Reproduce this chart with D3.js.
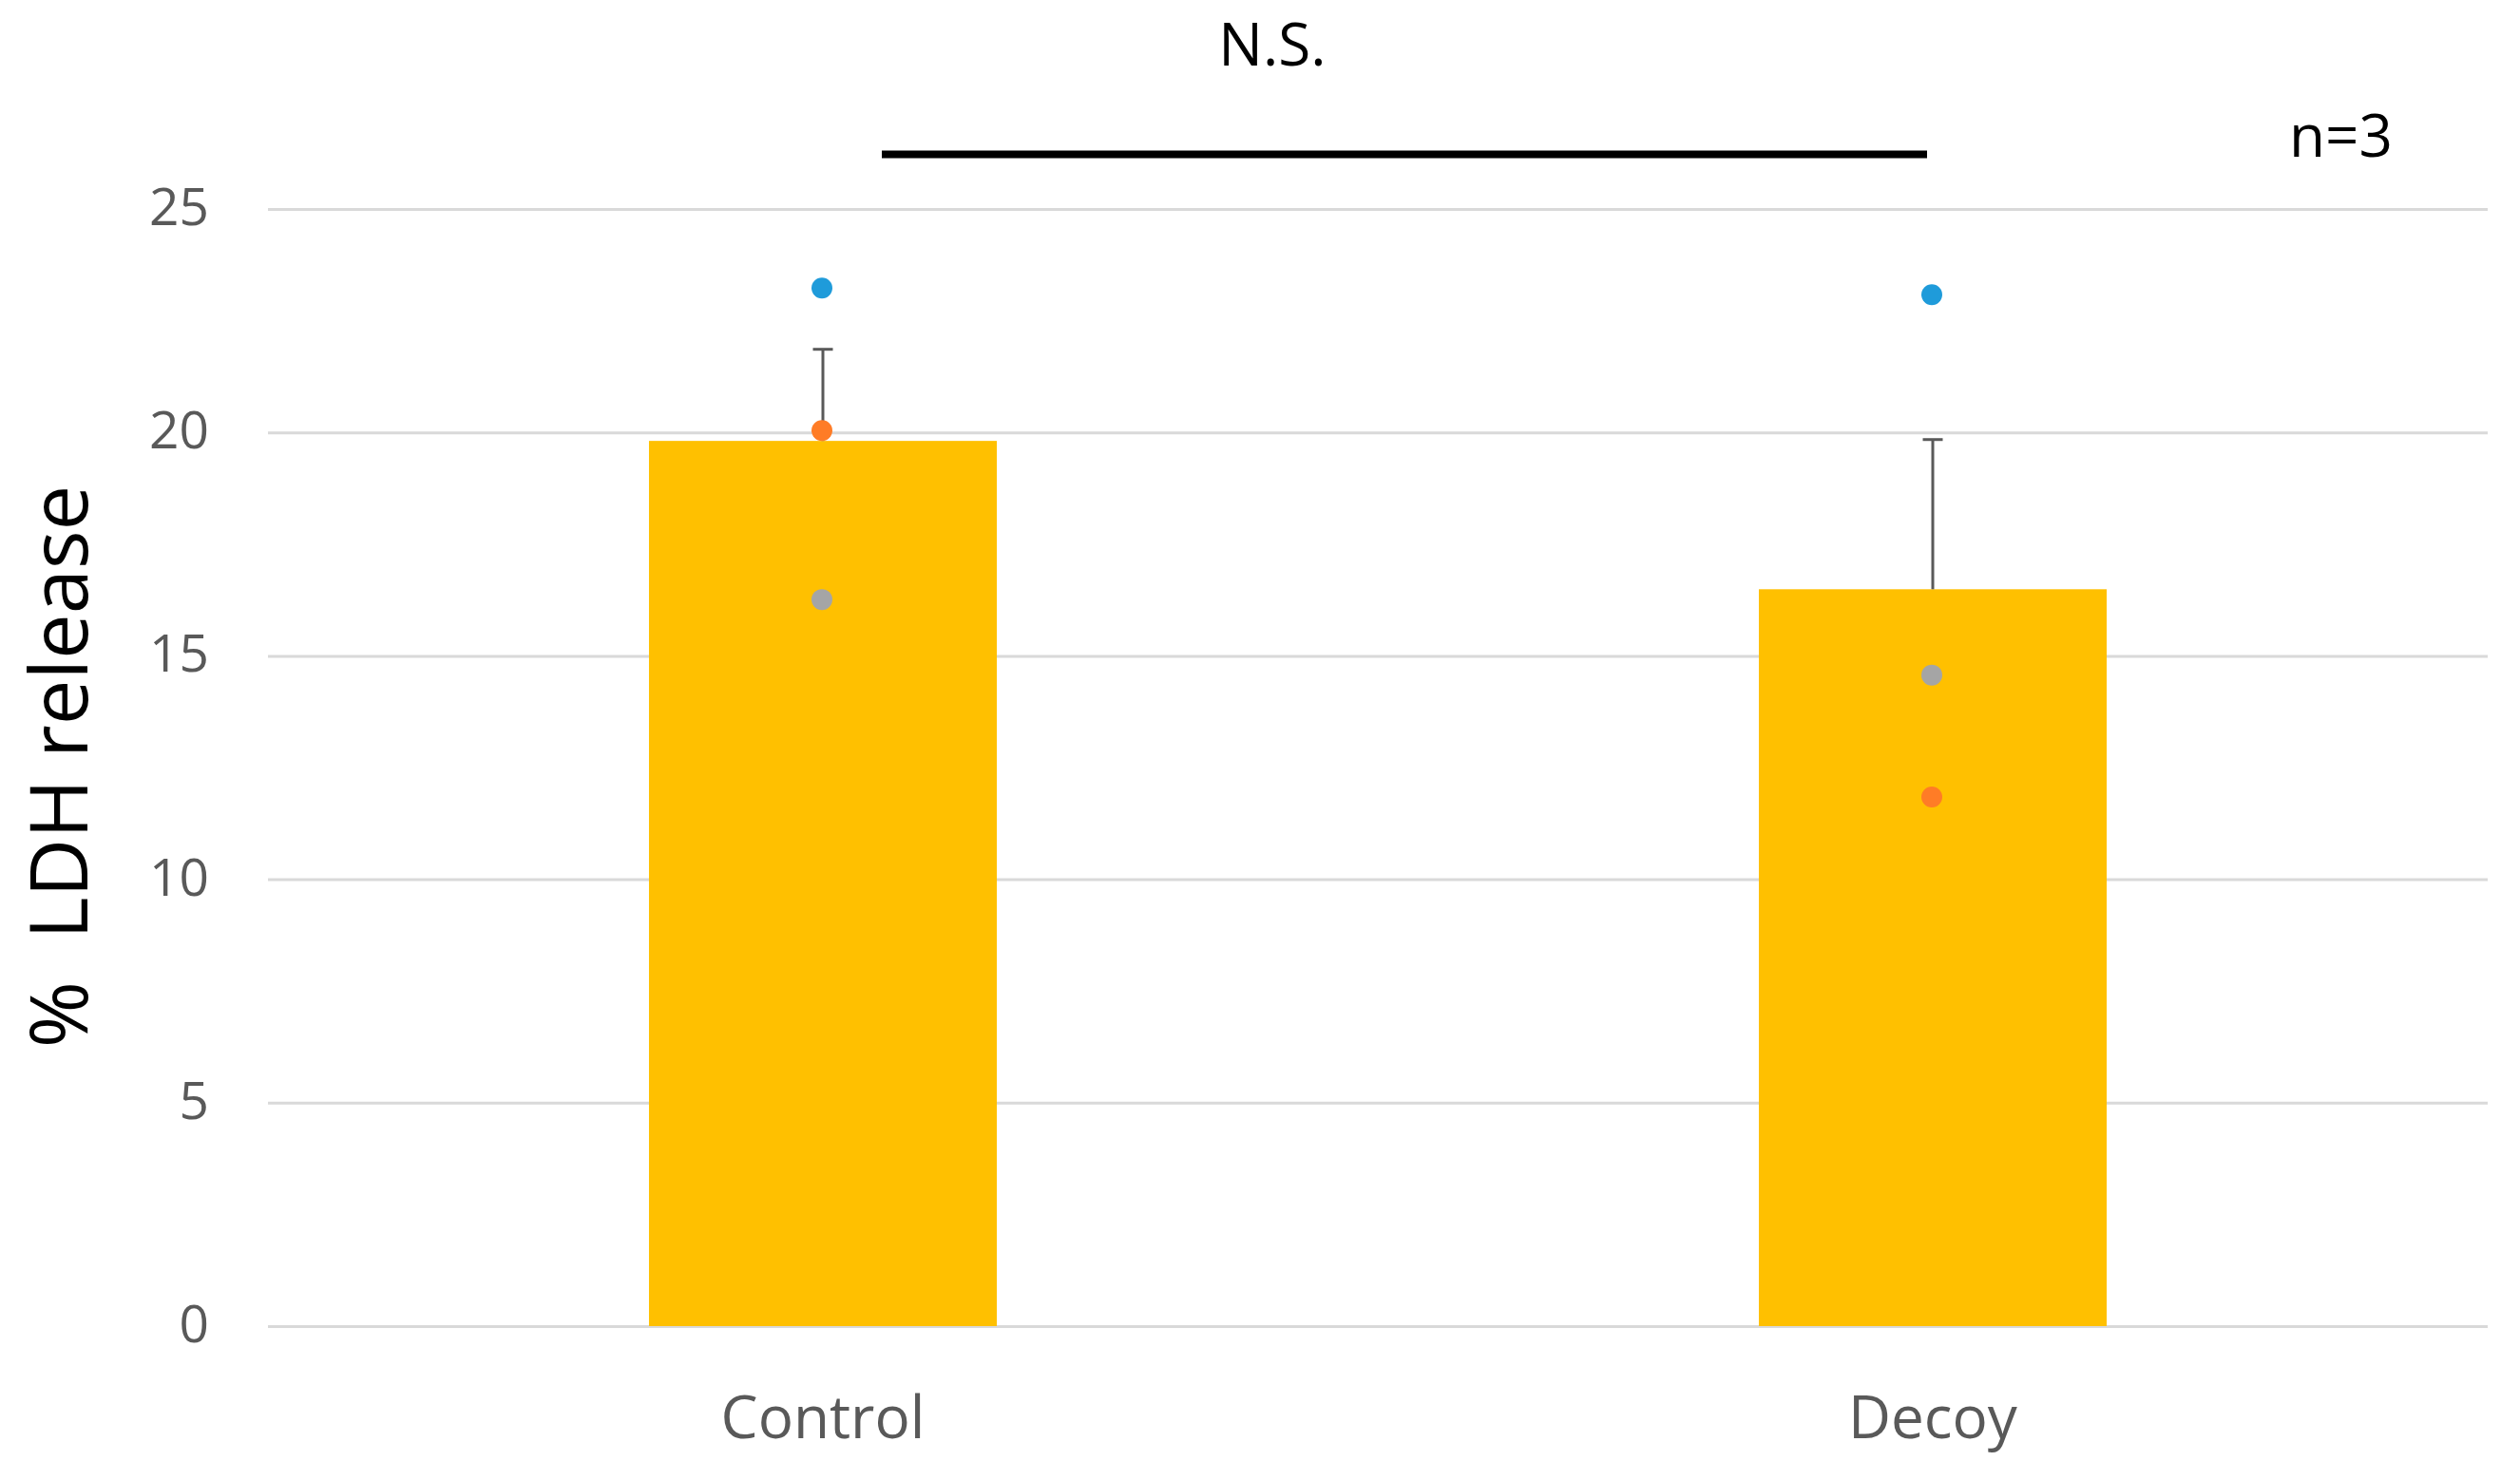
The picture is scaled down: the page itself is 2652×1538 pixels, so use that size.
<!DOCTYPE html>
<html>
<head>
<meta charset="utf-8">
<script src="https://cdn.jsdelivr.net/npm/d3@7"></script>
<style>
  html, body { margin: 0; padding: 0; background: #fff; }
  svg { display: block; }
  text { font-family: "Open Sans", "Noto Sans", sans-serif; }
</style>
</head>
<body>
<svg id="chart" width="2652" height="1538"></svg>
<script>
// ---- data ----
const categories = ["Control", "Decoy"];
const means = [19.81, 16.49];
const errors = [2.05, 3.35];
const rep1 = [23.23, 23.08];   // blue
const rep2 = [20.04, 11.84];   // orange
const rep3 = [16.26, 14.57];   // gray
const yTicks = [0, 5, 10, 15, 20, 25];
const yLabel = "%  LDH release";
const sigLabel = "N.S.";
const nLabel = "n=3";
const bracketValue = 26.22;

// ---- layout ----
const W = 2652, H = 1538;
const margin = { top: 220, right: 34, bottom: 142, left: 282 };
const svg = d3.select("#chart");

const x = d3.scaleBand()
  .domain(categories)
  .range([margin.left, W - margin.right])
  .paddingInner(0.6866)
  .paddingOuter(0.3433);

const y = d3.scaleLinear()
  .domain([0, 25])
  .range([H - margin.bottom, margin.top]);

// gridlines
const yAxis = d3.axisLeft(y)
  .tickValues(yTicks)
  .tickSize(-(W - margin.right - margin.left))
  .tickPadding(62);
const gy = svg.append("g")
  .attr("transform", `translate(${margin.left},0)`)
  .call(yAxis);
gy.select(".domain").remove();
gy.selectAll(".tick line").attr("stroke", "#D9D9D9").attr("stroke-width", 3);
gy.selectAll(".tick text")
  .attr("fill", "#595959")
  .attr("font-size", 55)
  .attr("dy", "0.3em");

// bars
svg.append("g").selectAll("rect")
  .data(categories)
  .join("rect")
  .attr("x", d => x(d))
  .attr("width", x.bandwidth())
  .attr("y", (d, i) => y(means[i]))
  .attr("height", (d, i) => y(0) - y(means[i]))
  .attr("fill", "#FFC000");

// error bars (plus only)
const eb = svg.append("g").attr("stroke", "#595959").attr("stroke-width", 3);
categories.forEach((c, i) => {
  const cx = x(c) + x.bandwidth() / 2;
  eb.append("line")
    .attr("x1", cx).attr("x2", cx)
    .attr("y1", y(means[i])).attr("y2", y(means[i] + errors[i]));
  eb.append("line")
    .attr("x1", cx - 10.5).attr("x2", cx + 10.5)
    .attr("y1", y(means[i] + errors[i])).attr("y2", y(means[i] + errors[i]));
});

// replicate points
const series = [
  { vals: rep3, color: "#A5A5A5" },
  { vals: rep2, color: "#FF7C26" },
  { vals: rep1, color: "#1F9BDA" }
];
series.forEach(s => {
  svg.append("g").selectAll("circle")
    .data(categories)
    .join("circle")
    .attr("cx", d => x(d) + x.bandwidth() / 2 - 1)
    .attr("cy", (d, i) => y(s.vals[i]))
    .attr("r", 11)
    .attr("fill", s.color);
});

// x labels
svg.append("g").selectAll("text")
  .data(categories)
  .join("text")
  .attr("x", d => x(d) + x.bandwidth() / 2)
  .attr("y", 1514)
  .attr("text-anchor", "middle")
  .attr("font-size", 62)
  .attr("fill", "#595959")
  .text(d => d);

// y axis title
svg.append("text")
  .attr("transform", `translate(92,807) rotate(-90)`)
  .attr("text-anchor", "middle")
  .attr("font-size", 85)
  .attr("fill", "#000")
  .attr("xml:space", "preserve")
  .style("white-space", "pre")
  .text(yLabel);

// significance bracket
const cCtl = x("Control") + x.bandwidth() / 2;
const cDec = x("Decoy") + x.bandwidth() / 2;
svg.append("line")
  .attr("x1", cCtl + 62).attr("x2", cDec - 6)
  .attr("y1", y(bracketValue)).attr("y2", y(bracketValue))
  .attr("stroke", "#000").attr("stroke-width", 8);

svg.append("text")
  .attr("x", (cCtl + cDec) / 2 - 111)
  .attr("y", 69)
  .attr("text-anchor", "middle")
  .attr("font-size", 62)
  .attr("fill", "#000")
  .text(sigLabel);

svg.append("text")
  .attr("x", 2409)
  .attr("y", 165)
  .attr("text-anchor", "start")
  .attr("font-size", 62)
  .attr("fill", "#000")
  .text(nLabel);
</script>
</body>
</html>
